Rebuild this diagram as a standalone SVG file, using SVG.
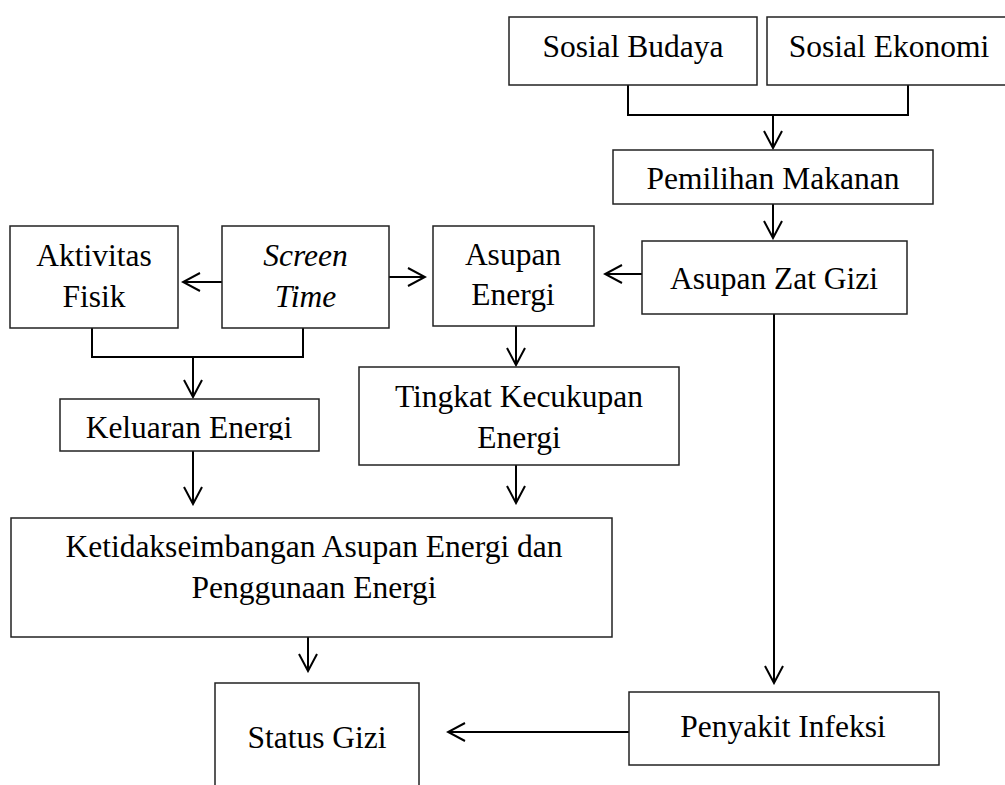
<svg xmlns="http://www.w3.org/2000/svg" width="1005" height="785" viewBox="0 0 1005 785">
<defs>
<style>
.box{fill:#fff;stroke:#222;stroke-width:1.5}
.t{font-family:"Liberation Serif","Times New Roman",serif;font-size:31.5px;fill:#000;text-anchor:middle}
.i{font-style:italic}
.c{fill:none;stroke:#000;stroke-width:2}
</style>
<marker id="ah" viewBox="0 0 20 20" refX="18" refY="10" markerWidth="20" markerHeight="20" markerUnits="userSpaceOnUse" orient="auto">
<path d="M1,1 L18,10 L1,19" fill="none" stroke="#000" stroke-width="2"/>
</marker>
<clipPath id="kclip"><rect x="60" y="399" width="260" height="41"/></clipPath>
</defs>
<rect width="1005" height="785" fill="#fff"/>
<g id="connectors">
<path class="c" d="M628,85 V115 H908 V85"/>
<path class="c" d="M773,115 V148" marker-end="url(#ah)"/>
<path class="c" d="M773,204 V238" marker-end="url(#ah)"/>
<path class="c" d="M642,274 H605" marker-end="url(#ah)"/>
<path class="c" d="M222,282 H183" marker-end="url(#ah)"/>
<path class="c" d="M389,277 H425" marker-end="url(#ah)"/>
<path class="c" d="M92,328 V357 H303 V328"/>
<path class="c" d="M193,357 V397" marker-end="url(#ah)"/>
<path class="c" d="M516,326 V365" marker-end="url(#ah)"/>
<path class="c" d="M193,451 V504" marker-end="url(#ah)"/>
<path class="c" d="M516,465 V503" marker-end="url(#ah)"/>
<path class="c" d="M308,637 V671" marker-end="url(#ah)"/>
<path class="c" d="M774,314 V683" marker-end="url(#ah)"/>
<path class="c" d="M629,732 H448" marker-end="url(#ah)"/>
</g>
<g id="sosial-budaya"><rect class="box" x="509" y="17" width="248" height="68"/><text class="t" x="633" y="57">Sosial Budaya</text></g>
<g id="sosial-ekonomi"><rect class="box" x="767" y="17" width="250" height="68"/><text class="t" x="889" y="57">Sosial Ekonomi</text></g>
<g id="pemilihan-makanan"><rect class="box" x="613" y="150" width="320" height="54"/><text class="t" x="773" y="189">Pemilihan Makanan</text></g>
<g id="asupan-zat-gizi"><rect class="box" x="642" y="241" width="265" height="73"/><text class="t" x="774" y="289">Asupan Zat Gizi</text></g>
<g id="asupan-energi"><rect class="box" x="433" y="226" width="161" height="100"/><text class="t" x="513" y="265">Asupan</text><text class="t" x="513" y="305">Energi</text></g>
<g id="aktivitas-fisik"><rect class="box" x="10" y="226" width="168" height="102"/><text class="t" x="94" y="266">Aktivitas</text><text class="t" x="94" y="307">Fisik</text></g>
<g id="screen-time"><rect class="box" x="222" y="226" width="167" height="102"/><text class="t i" x="305.5" y="266">Screen</text><text class="t i" x="305.5" y="307">Time</text></g>
<g id="keluaran-energi"><rect class="box" x="60" y="399" width="259" height="52"/><text class="t" x="189" y="438" clip-path="url(#kclip)">Keluaran Energi</text></g>
<g id="tingkat-kecukupan"><rect class="box" x="359" y="367" width="320" height="98"/><text class="t" x="519" y="407">Tingkat Kecukupan</text><text class="t" x="519" y="448">Energi</text></g>
<g id="ketidakseimbangan"><rect class="box" x="11" y="518" width="601" height="119"/><text class="t" x="314" y="557">Ketidakseimbangan Asupan Energi dan</text><text class="t" x="314" y="598">Penggunaan Energi</text></g>
<g id="status-gizi"><rect class="box" x="215" y="683" width="204" height="120"/><text class="t" x="317" y="748">Status Gizi</text></g>
<g id="penyakit-infeksi"><rect class="box" x="629" y="692" width="310" height="73"/><text class="t" x="783" y="737">Penyakit Infeksi</text></g>
</svg>
